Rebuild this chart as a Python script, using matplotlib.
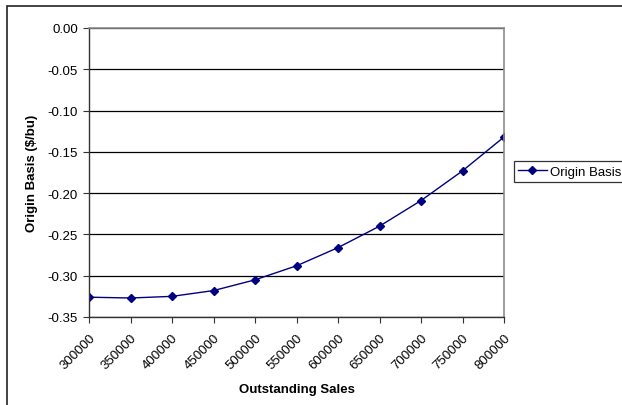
import matplotlib
matplotlib.use("Agg")
import matplotlib.pyplot as plt
from matplotlib.patches import Rectangle

plt.rcParams['font.family'] = ['Liberation Sans', 'DejaVu Sans']

outstanding_sales = [300000, 350000, 400000, 450000, 500000, 550000,
                     600000, 650000, 700000, 750000, 800000]
origin_basis = [-0.326, -0.327, -0.325, -0.318, -0.305, -0.288,
                -0.266, -0.240, -0.209, -0.173, -0.132]
y_ticks = [0.00, -0.05, -0.10, -0.15, -0.20, -0.25, -0.30, -0.35]

W, H = 622, 406
fig = plt.figure(figsize=(W / 100, H / 100), dpi=100)

# chart-area frame (left and top edges visible)
fig.patches.append(Rectangle((7 / W, -0.1), 1.2, (H - 7) / H + 0.1,
                             transform=fig.transFigure, fill=False,
                             edgecolor='#222222', linewidth=1.2))

left, right, top, bottom = 89, 504, 29, 318
ax = fig.add_axes([left / W, 1 - bottom / H, (right - left) / W, (bottom - top) / H])

ax.plot(outstanding_sales, origin_basis, color='#000080', linewidth=1.0,
        marker='D', markersize=3.8, markerfacecolor='#000080',
        markeredgecolor='#000080', label='Origin Basis')

ax.set_xlim(300000, 800000)
ax.set_ylim(-0.35, 0.0)
ax.set_xticks(outstanding_sales)
ax.set_xticklabels([str(v) for v in outstanding_sales], rotation=45,
                   ha='right', va='top', rotation_mode='anchor', fontsize=9.5)
ax.set_yticks(y_ticks)
ax.set_yticklabels([f"{v:.2f}" for v in y_ticks], fontsize=9.5)

ax.grid(axis='y', color='black', linewidth=0.9)
ax.set_axisbelow(True)
for side in ('top', 'right'):
    ax.spines[side].set_color('#8c8c8c')
    ax.spines[side].set_linewidth(1.2)
for side in ('left', 'bottom'):
    ax.spines[side].set_color('#333333')
    ax.spines[side].set_linewidth(1.0)
ax.tick_params(axis='both', direction='out', length=4, width=0.8, color='#333333')
ax.tick_params(axis='x', pad=6)
ax.tick_params(axis='y', pad=4)

ax.set_xlabel('Outstanding Sales', fontsize=9.5, fontweight='bold', labelpad=9)
ax.set_ylabel('Origin Basis (\\$/bu)', fontsize=9.5, fontweight='bold', labelpad=7)

leg = ax.legend(loc='center left', bbox_to_anchor=(514 / W, 1 - 172.5 / H),
                bbox_transform=fig.transFigure, fontsize=9.5, frameon=True,
                fancybox=False, edgecolor='black', handlelength=2.2,
                borderpad=0.3, handletextpad=0.2, borderaxespad=0)
leg.get_frame().set_linewidth(0.9)

fig.savefig('out.png', dpi=100)
